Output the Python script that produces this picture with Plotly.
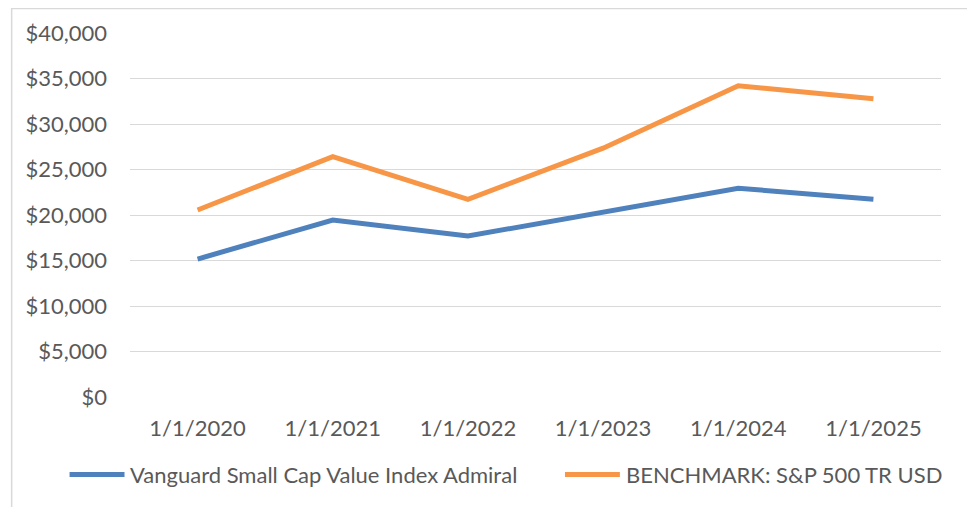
import plotly.graph_objects as go

categories = ["1/1/2020", "1/1/2021", "1/1/2022", "1/1/2023", "1/1/2024", "1/1/2025"]
fund_name = "Vanguard Small Cap Value Index Admiral"
fund_values = [15160, 19450, 17690, 20360, 22940, 21730]
bench_name = "BENCHMARK: S&P 500 TR USD"
bench_values = [20550, 26420, 21730, 27340, 34200, 32770]
y_tick_values = [0, 5000, 10000, 15000, 20000, 25000, 30000, 35000, 40000]
y_tick_labels = ["$0", "$5,000", "$10,000", "$15,000", "$20,000", "$25,000", "$30,000", "$35,000", "$40,000"]

FONT = "Lato, 'Noto Sans', sans-serif"
TXT = "#595959"
FS = 22
BLUE = "#4F81BD"
ORANGE = "#F79646"

fig = go.Figure()
fig.add_trace(go.Scatter(x=categories, y=fund_values, name=fund_name, mode="lines",
                         line=dict(color=BLUE, width=5)))
fig.add_trace(go.Scatter(x=categories, y=bench_values, name=bench_name, mode="lines",
                         line=dict(color=ORANGE, width=5)))

# page body has an 8px default margin; work in reference-window pixels and offset
OFF = 8
W, H = 975 - OFF, 507 - OFF
plot_left, plot_right = 129.5 - OFF, 941.5 - OFF
plot_top, plot_bottom = 33.3 - OFF, 396.7 - OFF
L, R, T, B = plot_left, W - plot_right, plot_top, H - plot_bottom
plot_w = plot_right - plot_left
plot_h = plot_bottom - plot_top

def px_to_paper_x(px):
    return (px - OFF - plot_left) / plot_w

def px_to_paper_y(py):
    return (plot_bottom - (py - OFF)) / plot_h

legend_items = [(fund_name, BLUE, 69, 124, 127), (bench_name, ORANGE, 565, 620, 624)]
shapes = [dict(type="rect", xref="paper", yref="paper",
               x0=px_to_paper_x(11), x1=px_to_paper_x(970.5),
               y0=px_to_paper_y(530), y1=px_to_paper_y(8.8),
               line=dict(color="#D9D9D9", width=1.5), fillcolor="rgba(0,0,0,0)", layer="below")]
annotations = []
ly = px_to_paper_y(474)
for name, col, x0, x1, tx in legend_items:
    shapes.append(dict(type="line", xref="paper", yref="paper",
                       x0=px_to_paper_x(x0), x1=px_to_paper_x(x1), y0=ly, y1=ly,
                       line=dict(color=col, width=5)))
    annotations.append(dict(xref="paper", yref="paper", x=px_to_paper_x(tx), y=ly,
                            xanchor="left", yanchor="middle", text=name, showarrow=False,
                            font=dict(family=FONT, size=FS, color=TXT)))

fig.update_layout(
    width=W, height=H,
    margin=dict(l=L, r=R, t=T, b=B, pad=0),
    paper_bgcolor="white", plot_bgcolor="white",
    font=dict(family=FONT, size=FS, color=TXT),
    showlegend=False,
    xaxis=dict(type="category", range=[-0.5, 5.5], showgrid=False, zeroline=False, showline=False,
               ticks="", tickfont=dict(family=FONT, size=FS, color=TXT),
               ticklabelstandoff=16, fixedrange=True),
    yaxis=dict(range=[0, 40000], tickvals=y_tick_values, ticktext=y_tick_labels,
               showgrid=True, gridcolor="#D9D9D9", gridwidth=1.3, zeroline=False,
               showline=False, ticks="", tickfont=dict(family=FONT, size=FS, color=TXT),
               ticklabelstandoff=22, fixedrange=True),
    shapes=shapes,
    annotations=annotations,
)

fig.write_html("out.html")
